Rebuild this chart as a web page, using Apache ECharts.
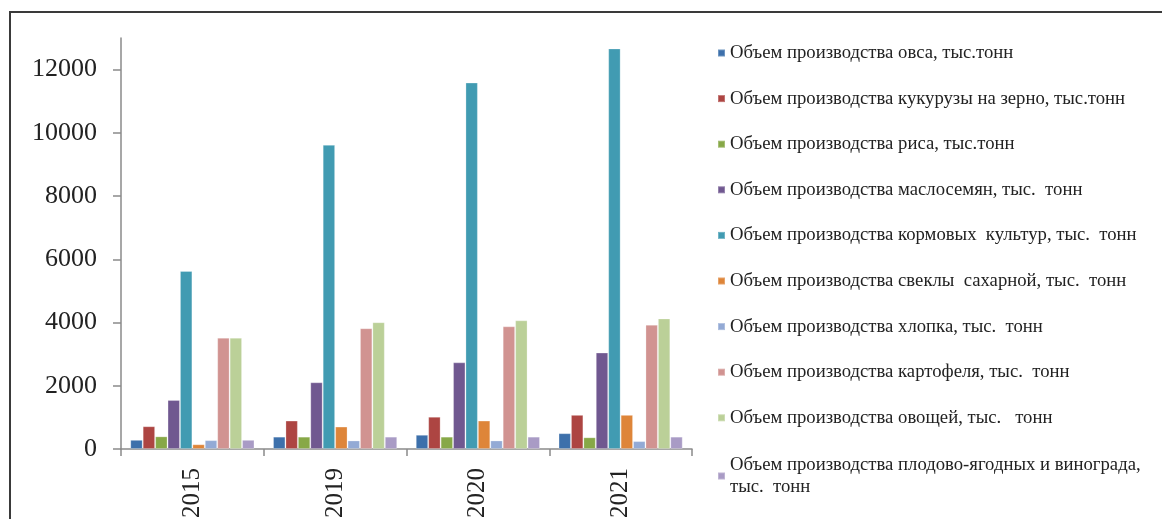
<!DOCTYPE html>
<html>
<head>
<meta charset="utf-8">
<style>
  html, body { margin: 0; padding: 0; background: #fff; }
  #chart { width: 1162px; height: 519px; }
</style>
<script src="https://cdn.jsdelivr.net/npm/echarts@6/dist/echarts.min.js"></script>
</head>
<body>
<div id="chart"></div>
<script>
// годы (категории)
const years = ['2015', '2019', '2020', '2021']

// названия рядов
const seriesNames = [
  'Объем производства овса, тыс.тонн',
  'Объем производства кукурузы на зерно, тыс.тонн',
  'Объем производства риса, тыс.тонн',
  'Объем производства маслосемян, тыс.  тонн',
  'Объем производства кормовых  культур, тыс.  тонн',
  'Объем производства свеклы  сахарной, тыс.  тонн',
  'Объем производства хлопка, тыс.  тонн',
  'Объем производства картофеля, тыс.  тонн',
  'Объем производства овощей, тыс.   тонн',
  'Объем производства плодово-ягодных и винограда, тыс.  тонн'
]

// значения по годам
const oats = [290, 390, 450, 500]
const corn = [720, 900, 1020, 1080]
const rice = [400, 390, 390, 370]
const oilseeds = [1550, 2110, 2740, 3050]
const fodder = [5630, 9620, 11590, 12670]
const sugarBeet = [150, 710, 900, 1080]
const cotton = [280, 270, 270, 250]
const potato = [3520, 3820, 3880, 3930]
const vegetables = [3520, 4010, 4070, 4130]
const fruits = [290, 390, 390, 390]

const allValues = [oats, corn, rice, oilseeds, fodder, sugarBeet, cotton, potato, vegetables, fruits]

// подписи оси Y
const yTicks = [0, 2000, 4000, 6000, 8000, 10000, 12000]

const colors = ['#3d70ab', '#ad4542', '#87a847', '#705890', '#419bb2',
  '#de8539', '#93aad5', '#d19391', '#bbd098', '#a99bc5']

const chartInstance = echarts.init(document.getElementById('chart'))

const seriesArr = allValues.map((arr, index) => {
  return {
    type: 'bar',
    name: seriesNames[index],
    data: arr,
    barGap: '0%',
    barCategoryGap: '13%',
    itemStyle: {
      color: colors[index],
      borderColor: 'rgba(255,255,255,0.25)',
      borderWidth: 1
    }
  }
})

const legendText = {
  fontFamily: 'Liberation Serif',
  fontSize: 18.7,
  color: '#222',
  lineHeight: 22
}

const option = {
  animation: false,
  backgroundColor: '#fff',
  grid: {
    left: 121,
    right: 470,
    top: 38,
    bottom: 70,
    outerBoundsMode: 'none'
  },
  legend: [
    {
      // первые девять рядов
      orient: 'vertical',
      left: 712,
      top: 37,
      itemWidth: 7,
      itemHeight: 7,
      itemGap: 23.6,
      icon: 'rect',
      data: seriesNames.slice(0, 9),
      textStyle: legendText
    },
    {
      // последний ряд, подпись в две строки
      orient: 'vertical',
      left: 712,
      top: 449,
      itemWidth: 7,
      itemHeight: 7,
      icon: 'rect',
      data: seriesNames.slice(9),
      formatter: (name) => name.replace('винограда, ', 'винограда,\n'),
      textStyle: legendText
    }
  ],
  xAxis: {
    type: 'category',
    data: years,
    axisLine: { lineStyle: { color: '#8a8a8a', width: 1.5 } },
    axisTick: { show: true, length: 7, lineStyle: { color: '#8a8a8a', width: 1.5 } },
    axisLabel: {
      rotate: 90,
      margin: 19,
      fontFamily: 'Liberation Serif',
      fontSize: 25,
      color: '#222'
    }
  },
  yAxis: {
    type: 'value',
    min: 0,
    max: 13000,
    interval: 2000,
    splitLine: { show: false },
    axisLine: { show: true, lineStyle: { color: '#8a8a8a', width: 1.5 } },
    axisTick: { show: true, length: 8, customValues: yTicks, lineStyle: { color: '#8a8a8a', width: 1.5 } },
    axisLabel: {
      customValues: yTicks,
      formatter: (v) => String(v),
      margin: 24,
      fontFamily: 'Liberation Serif',
      fontSize: 26,
      color: '#222'
    }
  },
  graphic: [
    {
      type: 'line',
      shape: { x1: 9, y1: 12, x2: 1162, y2: 12 },
      style: { stroke: '#3a3a3a', lineWidth: 2 }
    },
    {
      type: 'line',
      shape: { x1: 10, y1: 12, x2: 10, y2: 519 },
      style: { stroke: '#3a3a3a', lineWidth: 2 }
    }
  ],
  series: seriesArr
}

chartInstance.setOption(option)
</script>
</body>
</html>
